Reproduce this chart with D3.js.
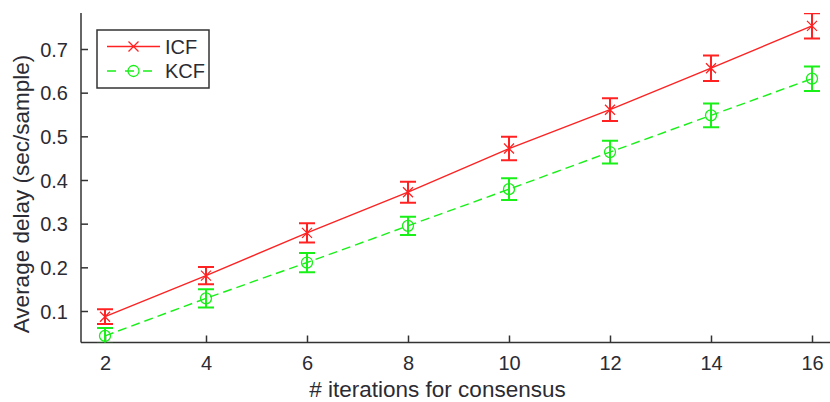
<!DOCTYPE html>
<html>
<head>
<meta charset="utf-8">
<script src="https://cdn.jsdelivr.net/npm/d3@7"></script>
<style>
  html, body { margin: 0; padding: 0; background: #fff; }
  svg { display: block; font-family: Arial, "Liberation Sans", sans-serif; }
</style>
</head>
<body>
<svg id="chart" width="830" height="402"></svg>
<script>
// Consensus iterations on the x axis
const iterations = [2, 4, 6, 8, 10, 12, 14, 16];
// Average delay (sec/sample) per method
const icfDelay = [0.087, 0.181, 0.279, 0.372, 0.472, 0.561, 0.656, 0.753];
const kcfDelay = [0.043, 0.129, 0.211, 0.295, 0.379, 0.464, 0.548, 0.632];
// Half-length of each error bar
const icfErr = [0.017, 0.020, 0.022, 0.024, 0.027, 0.026, 0.029, 0.029];
const kcfErr = [0.018, 0.021, 0.022, 0.021, 0.025, 0.026, 0.027, 0.028];
// Tick labels
const xTicks = [2, 4, 6, 8, 10, 12, 14, 16];
const yTicks = [0.1, 0.2, 0.3, 0.4, 0.5, 0.6, 0.7];
const seriesNames = ["ICF", "KCF"];

const svg = d3.select("#chart");
const plot = { left: 81, right: 830, top: 13, bottom: 342.5 };

const x = d3.scaleLinear().domain([2, 16]).range([105, 812]);
const y = d3.scaleLinear().domain([0.1, 0.7]).range([311, 49]);

const textColor = "#2b2b33";
const axisColor = "#333";
const fontSize = 20;
const titleSize = 22.5;

svg.append("defs").append("clipPath").attr("id", "plotClip")
  .append("rect")
  .attr("x", plot.left).attr("y", plot.top)
  .attr("width", plot.right - plot.left).attr("height", plot.bottom - plot.top);

// Axes with inward ticks
const xAxis = d3.axisBottom(x).tickValues(xTicks).tickSize(-7).tickPadding(13).tickFormat(d3.format("d"));
const yAxis = d3.axisLeft(y).tickValues(yTicks).tickSize(-7).tickPadding(13).tickFormat(d3.format(".1f"));

const gx = svg.append("g").attr("transform", `translate(0,${plot.bottom})`).call(xAxis);
gx.select(".domain").remove();
gx.append("line").attr("x1", plot.left).attr("x2", plot.right).attr("y1", 0).attr("y2", 0)
  .attr("stroke", axisColor).attr("stroke-width", 1.5);

const gy = svg.append("g").attr("transform", `translate(${plot.left},0)`).call(yAxis);
gy.select(".domain").remove();
gy.append("line").attr("x1", 0).attr("x2", 0).attr("y1", plot.top).attr("y2", plot.bottom)
  .attr("stroke", axisColor).attr("stroke-width", 1.5);

[gx, gy].forEach(g => {
  g.selectAll(".tick line").attr("stroke", axisColor).attr("stroke-width", 1.5);
  g.selectAll(".tick text").attr("fill", textColor).attr("font-size", fontSize)
    .attr("font-family", "Arial, 'Liberation Sans', sans-serif");
});
gy.selectAll(".tick text").attr("dy", "0.36em");

// Axis titles
svg.append("text")
  .attr("x", 437.5).attr("y", 396.5)
  .attr("text-anchor", "middle").attr("fill", textColor).attr("font-size", titleSize)
  .text("# iterations for consensus");

svg.append("text")
  .attr("transform", `translate(29,194) rotate(-90)`)
  .attr("text-anchor", "middle").attr("fill", textColor).attr("font-size", titleSize)
  .text("Average delay (sec/sample)");

const series = [
  { name: seriesNames[0], values: icfDelay, err: icfErr, color: "#ff2222", dash: null, marker: "x" },
  { name: seriesNames[1], values: kcfDelay, err: kcfErr, color: "#18f018", dash: "9,5", marker: "o" }
];

const plotArea = svg.append("g").attr("clip-path", "url(#plotClip)");
const line = d3.line().x(d => x(d[0])).y(d => y(d[1]));
const capHalf = 8;

function drawMarker(g, type, cx, cy, color) {
  if (type === "x") {
    const s = 5;
    g.append("path")
      .attr("d", `M${cx - s},${cy - s}L${cx + s},${cy + s}M${cx - s},${cy + s}L${cx + s},${cy - s}`)
      .attr("stroke", color).attr("stroke-width", 1.3).attr("fill", "none");
  } else {
    g.append("circle").attr("cx", cx).attr("cy", cy).attr("r", 5.5)
      .attr("stroke", color).attr("stroke-width", 1.3).attr("fill", "none");
  }
}

series.forEach(s => {
  const pts = iterations.map((it, i) => [it, s.values[i], s.err[i]]);
  plotArea.append("path").datum(pts)
    .attr("d", line).attr("fill", "none")
    .attr("stroke", s.color).attr("stroke-width", 1.4)
    .attr("stroke-dasharray", s.dash);

  const eb = plotArea.append("g");
  pts.forEach(p => {
    const cx = x(p[0]);
    const yt = y(p[1] + p[2]), yb = y(p[1] - p[2]);
    eb.append("line").attr("x1", cx).attr("x2", cx).attr("y1", yt).attr("y2", yb)
      .attr("stroke", s.color).attr("stroke-width", 2);
    [yt, yb].forEach(yy => {
      eb.append("line").attr("x1", cx - capHalf).attr("x2", cx + capHalf).attr("y1", yy).attr("y2", yy)
        .attr("stroke", s.color).attr("stroke-width", 2);
    });
    drawMarker(eb, s.marker, cx, y(p[1]), s.color);
  });
});

// Legend
const legend = svg.append("g");
legend.append("rect").attr("x", 97).attr("y", 30).attr("width", 112).attr("height", 58)
  .attr("fill", "#fff").attr("stroke", axisColor).attr("stroke-width", 1.5);
series.forEach((s, i) => {
  const ly = 46.5 + i * 24.5;
  legend.append("line").attr("x1", 107).attr("x2", 160).attr("y1", ly).attr("y2", ly)
    .attr("stroke", s.color).attr("stroke-width", 1.5).attr("stroke-dasharray", s.dash ? "9,9" : null);
  drawMarker(legend, s.marker, 133.5, ly, s.color);
  legend.append("text").attr("x", 165).attr("y", ly).attr("dy", "0.36em")
    .attr("fill", textColor).attr("font-size", fontSize).text(s.name);
});
</script>
</body>
</html>
